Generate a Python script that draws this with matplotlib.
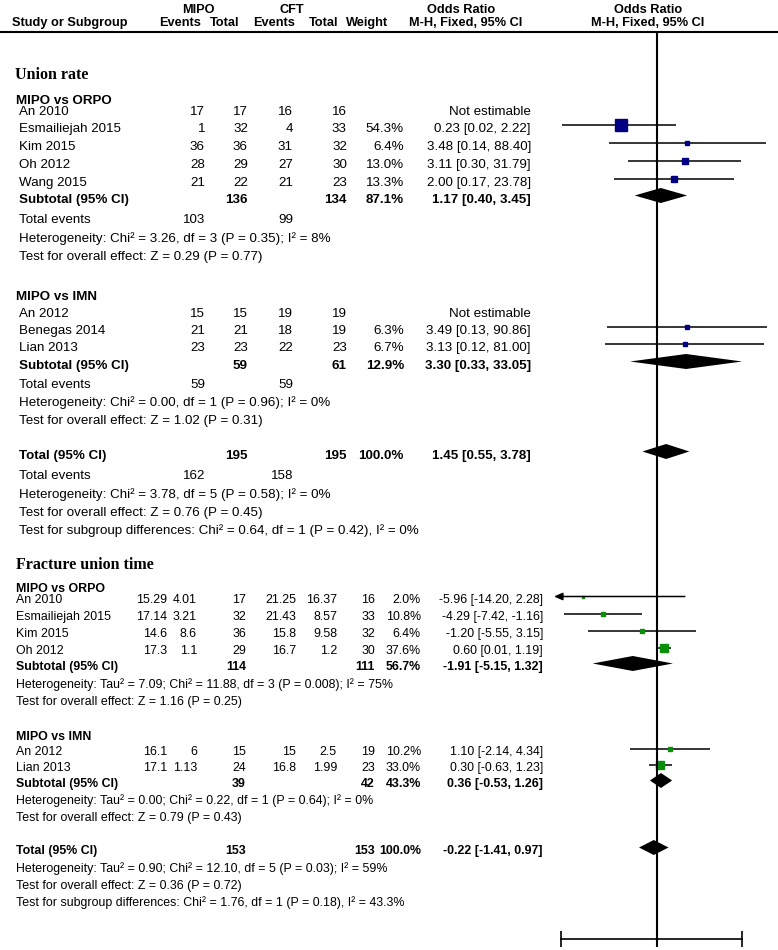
import numpy as np
import matplotlib
matplotlib.use("Agg")
import matplotlib.pyplot as plt

plt.rcParams['font.family'] = ['Liberation Sans', 'DejaVu Sans']

# ---------------- Union rate: odds ratio, M-H fixed ----------------
u1_study = ["An 2010", "Esmailiejah 2015", "Kim 2015", "Oh 2012", "Wang 2015"]
u1_mipo_ev = [17, 1, 36, 28, 21]
u1_mipo_n = [17, 32, 36, 29, 22]
u1_cft_ev = [16, 4, 31, 27, 21]
u1_cft_n = [16, 33, 32, 30, 23]
u1_weight = [None, 54.3, 6.4, 13.0, 13.3]
u1_or = [None, 0.23, 3.48, 3.11, 2.00]
u1_lo = [None, 0.02, 0.14, 0.30, 0.17]
u1_hi = [None, 2.22, 88.40, 31.79, 23.78]
u1_sub = [136, 134, 87.1, 1.17, 0.40, 3.45]
u1_events = [103, 99]
u1_het = "Heterogeneity: Chi² = 3.26, df = 3 (P = 0.35); I² = 8%"
u1_z = "Test for overall effect: Z = 0.29 (P = 0.77)"

u2_study = ["An 2012", "Benegas 2014", "Lian 2013"]
u2_mipo_ev = [15, 21, 23]
u2_mipo_n = [15, 21, 23]
u2_cft_ev = [19, 18, 22]
u2_cft_n = [19, 19, 23]
u2_weight = [None, 6.3, 6.7]
u2_or = [None, 3.49, 3.13]
u2_lo = [None, 0.13, 0.12]
u2_hi = [None, 90.86, 81.00]
u2_sub = [59, 61, 12.9, 3.30, 0.33, 33.05]
u2_events = [59, 59]
u2_het = "Heterogeneity: Chi² = 0.00, df = 1 (P = 0.96); I² = 0%"
u2_z = "Test for overall effect: Z = 1.02 (P = 0.31)"

u_total = [195, 195, 100.0, 1.45, 0.55, 3.78]
u_events = [162, 158]
u_het = "Heterogeneity: Chi² = 3.78, df = 5 (P = 0.58); I² = 0%"
u_z = "Test for overall effect: Z = 0.76 (P = 0.45)"
u_sg = "Test for subgroup differences: Chi² = 0.64, df = 1 (P = 0.42), I² = 0%"

# ---------------- Fracture union time: mean difference ----------------
f1_study = ["An 2010", "Esmailiejah 2015", "Kim 2015", "Oh 2012"]
f1_mipo_mean = [15.29, 17.14, 14.6, 17.3]
f1_mipo_sd = [4.01, 3.21, 8.6, 1.1]
f1_mipo_n = [17, 32, 36, 29]
f1_cft_mean = [21.25, 21.43, 15.8, 16.7]
f1_cft_sd = [16.37, 8.57, 9.58, 1.2]
f1_cft_n = [16, 33, 32, 30]
f1_weight = [2.0, 10.8, 6.4, 37.6]
f1_md = [-5.96, -4.29, -1.20, 0.60]
f1_lo = [-14.20, -7.42, -5.55, 0.01]
f1_hi = [2.28, -1.16, 3.15, 1.19]
f1_sub = [114, 111, 56.7, -1.91, -5.15, 1.32]
f1_het = "Heterogeneity: Tau² = 7.09; Chi² = 11.88, df = 3 (P = 0.008); I² = 75%"
f1_z = "Test for overall effect: Z = 1.16 (P = 0.25)"

f2_study = ["An 2012", "Lian 2013"]
f2_mipo_mean = [16.1, 17.1]
f2_mipo_sd = [6, 1.13]
f2_mipo_n = [15, 24]
f2_cft_mean = [15, 16.8]
f2_cft_sd = [2.5, 1.99]
f2_cft_n = [19, 23]
f2_weight = [10.2, 33.0]
f2_md = [1.10, 0.30]
f2_lo = [-2.14, -0.63]
f2_hi = [4.34, 1.23]
f2_sub = [39, 42, 43.3, 0.36, -0.53, 1.26]
f2_het = "Heterogeneity: Tau² = 0.00; Chi² = 0.22, df = 1 (P = 0.64); I² = 0%"
f2_z = "Test for overall effect: Z = 0.79 (P = 0.43)"

f_total = [153, 153, 100.0, -0.22, -1.41, 0.97]
f_het = "Heterogeneity: Tau² = 0.90; Chi² = 12.10, df = 5 (P = 0.03); I² = 59%"
f_z = "Test for overall effect: Z = 0.36 (P = 0.72)"
f_sg = "Test for subgroup differences: Chi² = 1.76, df = 1 (P = 0.18), I² = 43.3%"

# ---------------- layout (pixels) ----------------
W, H = 778, 950
NAVY, GREEN = '#000080', '#0a8f0a'
U_COLS = [205, 248, 293, 347, 404, 531]
F_COLS = [167, 197, 246, 296, 337, 375, 421, 543]
U_SIZE, F_SIZE, HEAD_SIZE = 9.6, 8.9, 9.2
MARK_DY = -2.5
FX0 = 554

fig = plt.figure(figsize=(W / 100, H / 100), dpi=100)
ax = fig.add_axes([0, 0, 1, 1])
ax.set_xlim(0, W)
ax.set_ylim(H, 0)
ax.axis('off')


def forest_axes():
    a = fig.add_axes([FX0 / W, 0, (W - FX0) / W, 1])
    a.set_ylim(H, 0)
    a.axis('off')
    a.patch.set_alpha(0)
    return a


ax_or = forest_axes()
ax_or.set_xscale('log')
or_zero, or_decade = 657, 56.0
ax_or.set_xlim(10 ** ((FX0 - or_zero) / or_decade), 10 ** ((W - or_zero) / or_decade))

ax_md = forest_axes()
md_zero, md_unit = 656.5, 12.4
ax_md.set_xlim((FX0 - md_zero) / md_unit, (W - md_zero) / md_unit)


def txt(x, y, s, size, bold=False, ha='left', **kw):
    # baseline placed half a cap height below the row centre
    ax.text(x, y + 0.36 * size * 100 / 72, s, fontsize=size,
            fontweight='bold' if bold else 'normal', ha=ha, va='baseline', **kw)


def row(y, label, values, cols, size, bold=False, x0=19):
    txt(x0, y, label, size, bold)
    for v, c in zip(values, cols):
        if v != '':
            txt(c, y, v, size, bold, ha='right')


def fmt_ci(e, lo, hi):
    return '%.2f [%.2f, %.2f]' % (e, lo, hi)


def square(a, x, y, w, color, k=1.15):
    a.plot([x], [y + MARK_DY], marker='s', ms=k * np.sqrt(w), color=color,
           mec=color, ls='none')


def ci(a, lo, hi, y):
    xl = a.get_xlim()[0]
    if lo < xl:
        a.annotate('', xy=(xl, y + MARK_DY), xytext=(hi, y + MARK_DY),
                   arrowprops=dict(arrowstyle='-|>,head_length=0.5,head_width=0.22',
                                   color='black', lw=1.1, shrinkA=0, shrinkB=0),
                   annotation_clip=False)
    else:
        a.hlines(y + MARK_DY, lo, hi, color='black', lw=1.1)


def diamond(a, est, lo, hi, y, h=7.5):
    yc = y + MARK_DY
    a.fill([lo, est, hi, est], [yc, yc - h, yc, yc + h], color='black', lw=0)


# ---------------- header ----------------
txt(198, 8, 'MIPO', HEAD_SIZE, True, ha='center')
txt(292, 8, 'CFT', HEAD_SIZE, True, ha='center')
txt(461, 8, 'Odds Ratio', HEAD_SIZE, True, ha='center')
txt(648, 8, 'Odds Ratio', HEAD_SIZE, True, ha='center')
txt(12, 21, 'Study or Subgroup', HEAD_SIZE, True)
for s, x in zip(['Events', 'Total', 'Events', 'Total', 'Weight',
                 'M-H, Fixed, 95% CI', 'M-H, Fixed, 95% CI'],
                [180, 225, 274, 324, 367, 466, 648]):
    txt(x, 21, s, HEAD_SIZE, True, ha='center')
ax.hlines(31.5, 0, W, color='black', lw=1.5)

serif = dict(family=['Liberation Serif', 'DejaVu Serif'])


# ---------------- union rate ----------------
def union_group(title, ty, ys, study, me, mn, ce, cn, wt, est, lo, hi,
                sub_y, sub, ev_y, events, het_y, het, z_y, z):
    txt(16, ty, title, U_SIZE, True)
    for i, y in enumerate(ys):
        if wt[i] is None:
            vals = [str(me[i]), str(mn[i]), str(ce[i]), str(cn[i]), '', 'Not estimable']
        else:
            vals = [str(me[i]), str(mn[i]), str(ce[i]), str(cn[i]),
                    '%.1f%%' % wt[i], fmt_ci(est[i], lo[i], hi[i])]
            ci(ax_or, lo[i], hi[i], y)
            square(ax_or, est[i], y, wt[i], NAVY)
        row(y, study[i], vals, U_COLS, U_SIZE)
    row(sub_y, 'Subtotal (95% CI)',
        ['', str(sub[0]), '', str(sub[1]), '%.1f%%' % sub[2], fmt_ci(*sub[3:])],
        U_COLS, U_SIZE, True)
    diamond(ax_or, sub[3], sub[4], sub[5], sub_y)
    row(ev_y, 'Total events', [str(events[0]), '', str(events[1])], U_COLS, U_SIZE)
    txt(19, het_y, het, U_SIZE)
    txt(19, z_y, z, U_SIZE)


txt(15, 73, 'Union rate', 11.5, True, **serif)
union_group('MIPO vs ORPO', 99, [110, 127, 145, 163, 181], u1_study, u1_mipo_ev,
            u1_mipo_n, u1_cft_ev, u1_cft_n, u1_weight, u1_or, u1_lo, u1_hi,
            198, u1_sub, 218, u1_events, 237, u1_het, 255, u1_z)
union_group('MIPO vs IMN', 295, [312, 329, 346], u2_study, u2_mipo_ev,
            u2_mipo_n, u2_cft_ev, u2_cft_n, u2_weight, u2_or, u2_lo, u2_hi,
            364, u2_sub, 383, u2_events, 401, u2_het, 419, u2_z)
row(454, 'Total (95% CI)',
    ['', str(u_total[0]), '', str(u_total[1]), '%.1f%%' % u_total[2], fmt_ci(*u_total[3:])],
    U_COLS, U_SIZE, True)
diamond(ax_or, u_total[3], u_total[4], u_total[5], 454)
row(474, 'Total events', [str(u_events[0]), '', str(u_events[1])], U_COLS, U_SIZE)
txt(19, 493, u_het, U_SIZE)
txt(19, 511, u_z, U_SIZE)
txt(19, 529, u_sg, U_SIZE)


# ---------------- fracture union time ----------------
def frac_group(title, ty, ys, study, mm, msd, mn, cm, csd, cn, wt, est, lo, hi,
               sub_y, sub, het_y, het, z_y, z):
    txt(16, ty, title, F_SIZE, True)
    for i, y in enumerate(ys):
        vals = ['%g' % mm[i], '%g' % msd[i], str(mn[i]), '%g' % cm[i], '%g' % csd[i],
                str(cn[i]), '%.1f%%' % wt[i], fmt_ci(est[i], lo[i], hi[i])]
        row(y, study[i], vals, F_COLS, F_SIZE, x0=16)
        ci(ax_md, lo[i], hi[i], y)
        square(ax_md, est[i], y, wt[i], GREEN, k=1.0)
    row(sub_y, 'Subtotal (95% CI)',
        ['', '', str(sub[0]), '', '', str(sub[1]), '%.1f%%' % sub[2], fmt_ci(*sub[3:])],
        F_COLS, F_SIZE, True, x0=16)
    diamond(ax_md, sub[3], sub[4], sub[5], sub_y)
    txt(16, het_y, het, F_SIZE)
    txt(16, z_y, z, F_SIZE)


txt(16, 563, 'Fracture union time', 11.5, True, **serif)
frac_group('MIPO vs ORPO', 588, [599, 616, 633, 650], f1_study, f1_mipo_mean,
           f1_mipo_sd, f1_mipo_n, f1_cft_mean, f1_cft_sd, f1_cft_n, f1_weight,
           f1_md, f1_lo, f1_hi, 666, f1_sub, 684, f1_het, 701, f1_z)
frac_group('MIPO vs IMN', 736, [751, 767], f2_study, f2_mipo_mean,
           f2_mipo_sd, f2_mipo_n, f2_cft_mean, f2_cft_sd, f2_cft_n, f2_weight,
           f2_md, f2_lo, f2_hi, 783, f2_sub, 800, f2_het, 817, f2_z)
row(850, 'Total (95% CI)',
    ['', '', str(f_total[0]), '', '', str(f_total[1]), '%.1f%%' % f_total[2],
     fmt_ci(*f_total[3:])], F_COLS, F_SIZE, True, x0=16)
diamond(ax_md, f_total[3], f_total[4], f_total[5], 850)
txt(16, 868, f_het, F_SIZE)
txt(16, 885, f_z, F_SIZE)
txt(16, 902, f_sg, F_SIZE)

# line of no effect
ax_md.vlines(0, 31, 947, color='black', lw=1.5)

# bottom scale bar (ticks only, no labels)
AX0, AX1, AXY = 561, 742, 939
ax_tk = fig.add_axes([AX0 / W, 1 - AXY / H, (AX1 - AX0) / W, 0.5 / H])
ax_tk.set_xlim((AX0 - md_zero) / md_unit, (AX1 - md_zero) / md_unit)
lo_t, hi_t = ax_tk.get_xlim()
ax_tk.set_xticks([lo_t, 0, hi_t])
ax_tk.tick_params(axis='x', direction='inout', length=11, width=1.2,
                  labelbottom=False)
ax_tk.set_yticks([])
for sp in ['top', 'left', 'right']:
    ax_tk.spines[sp].set_visible(False)
ax_tk.spines['bottom'].set_linewidth(1.2)
ax_tk.patch.set_alpha(0)

fig.savefig('out.png', dpi=100)
